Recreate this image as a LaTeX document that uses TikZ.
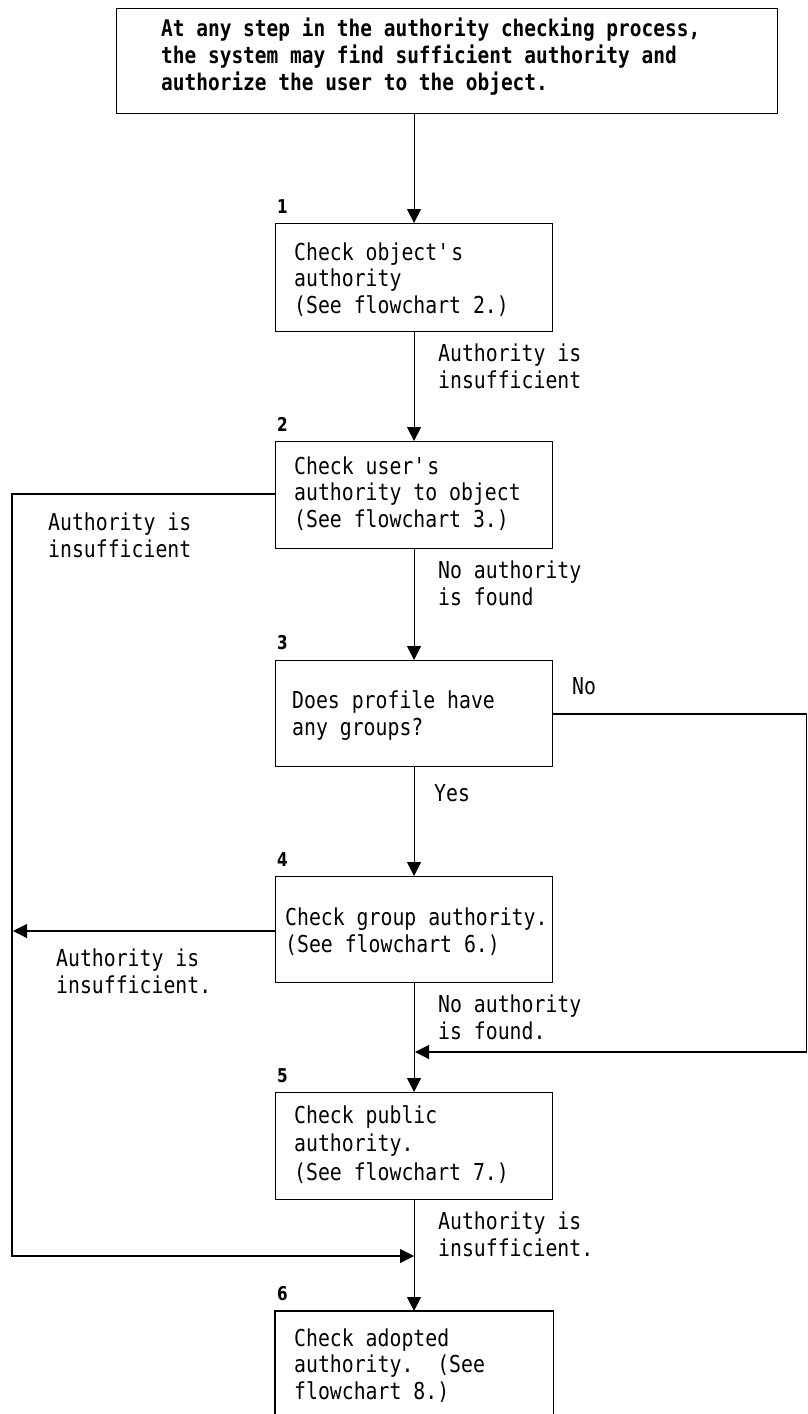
\documentclass[tikz,border=0pt]{standalone}
\usepackage{fontspec}
\newfontfamily\monof[FakeStretch=0.85]{DejaVu Sans Mono}
\newfontfamily\numf[FakeStretch=0.8]{DejaVu Sans}
\usetikzlibrary{arrows.meta}
\tikzset{
  box/.style={draw, line width=1.1pt, inner sep=0pt, anchor=north west, minimum width=277pt},
  txt/.style={inner sep=0pt, anchor=base west, align=left, font=\monof\fontsize{23.3}{26.5}\selectfont},
  txtw/.style={inner sep=0pt, anchor=base west, align=left, font=\monof\fontsize{23.3}{28.5}\selectfont},
  ttl/.style={inner sep=0pt, anchor=base west, align=left, font=\monof\bfseries\fontsize{22.9}{26.7}\selectfont},
  num/.style={inner sep=0pt, anchor=base west, font=\numf\bfseries\fontsize{19}{19}\selectfont},
  conn/.style={line width=1.1pt},
  arr/.style={line width=1.1pt, -{Triangle[length=14pt,width=14pt]}}
}
\begin{document}
\begin{tikzpicture}[x=1pt,y=-1pt]
\useasboundingbox (0,0) rectangle (807,1414);
% top box
\node[box, minimum width=661pt, minimum height=105pt] (t) at (116,8) {};
\node[ttl] (tt) at (161,90) {At any step in the authority checking process,\\the system may find sufficient authority and\\authorize the user to the object.};
% step boxes
\node[box, minimum height=108pt] (b1) at (275,223) {};
\node[box, minimum height=107pt] (b2) at (275,441) {};
\node[box, minimum height=106pt] (b3) at (275,660) {};
\node[box, minimum height=106pt] (b4) at (275,876) {};
\node[box, minimum height=107pt] (b5) at (275,1092) {};
\node[box, draw=none, minimum height=110pt] (b6) at (275,1311) {};
\draw[conn] (b6.south west) -- (b6.north west) -- (b6.north east) -- (b6.south east);
% numbers
\node[num] (n1) at (277,213) {1};
\node[num] (n2) at (277,431) {2};
\node[num] (n3) at (277,649) {3};
\node[num] (n4) at (277,866) {4};
\node[num] (n5) at (277,1082) {5};
\node[num] (n6) at (277,1300) {6};
% box texts (anchored at the baseline of their last line)
\node[txt] (x1) at (294,313) {Check object\textquotesingle s\\authority\\(See flowchart 2.)};
\node[txt] (x2) at (294,527) {Check user\textquotesingle s\\authority to object\\(See flowchart 3.)};
\node[txt] (x3) at (292,735) {Does profile have\\any groups?};
\node[txt] (x4) at (285,952) {Check group authority.\\(See flowchart 6.)};
\node[txtw] (x5) at (294,1180) {Check public\\authority.\\(See flowchart 7.)};
\node[txt] (x6) at (294,1399) {Check adopted\\authority.\ \ (See\\flowchart 8.)};
% labels
\node[txt] (l1) at (438,388) {Authority is\\insufficient};
\node[txt] (l2) at (438,605) {No authority\\is found};
\node[txt] (l3) at (48,557) {Authority is\\insufficient};
\node[txt] (l4) at (572,694) {No};
\node[txt] (l5) at (434,801) {Yes};
\node[txt] (l6) at (56,993) {Authority is\\insufficient.};
\node[txt] (l7) at (438,1039) {No authority\\is found.};
\node[txt] (l8) at (438,1256) {Authority is\\insufficient.};
% coordinates
\coordinate (lt) at (12,494);
\coordinate (lb) at (12,1256);
\coordinate (m6) at (414,1256);
\coordinate (lg) at (13,931);
\coordinate (rt) at (806.5,714);
\coordinate (rb) at (806.5,1052);
\coordinate (m5) at (415,1052);
% main connectors
\draw[arr] (t.south -| b1.north) -- (b1.north);
\draw[arr] (b1.south) -- (b2.north);
\draw[arr] (b2.south) -- (b3.north);
\draw[arr] (b3.south) -- (b4.north);
\draw[arr] (b4.south) -- (b5.north);
\draw[arr] (b5.south) -- (b6.north);
% side connectors
\draw[arr] (b2.west |- lt) -- (lt) -- (lb) -- (m6);
\draw[arr] (b4.west |- lg) -- (lg);
\draw[arr] (b3.east |- rt) -- (rt) -- (rb) -- (m5);
\end{tikzpicture}
\end{document}
